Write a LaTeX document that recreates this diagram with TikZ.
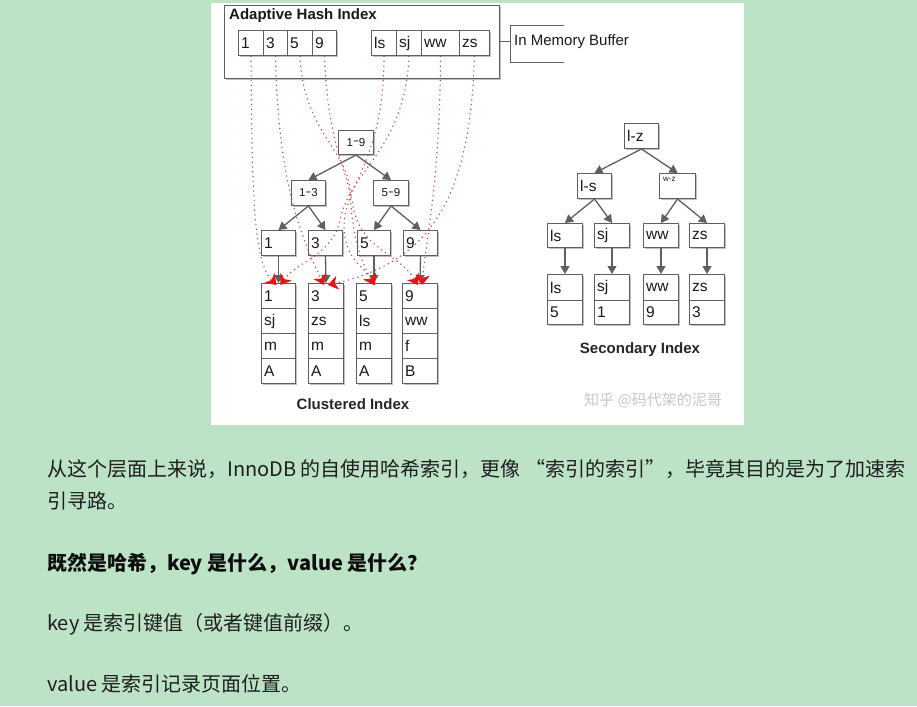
\documentclass[tikz,border=0pt]{standalone}
\usepackage{fontspec}
\setmainfont{Liberation Sans}
\newfontfamily\cjk{Noto Sans CJK SC}
\usetikzlibrary{arrows.meta,shadows}
\definecolor{bggreen}{RGB}{189,227,199}
\definecolor{boxline}{RGB}{95,95,95}
\definecolor{dotred}{RGB}{200,70,70}
\definecolor{tipred}{RGB}{232,20,20}
\definecolor{bodytext}{RGB}{30,30,30}
\tikzset{
  cbox/.style={draw=boxline, line width=1pt, fill=white, inner sep=0pt, anchor=north west,
    drop shadow={shadow xshift=1.3pt,shadow yshift=-1.3pt,fill=black!35,opacity=0.7}},
  celltxt/.style={inner sep=0pt, text=black!90, font=\fontsize{15.5}{18}\selectfont},
  smalltxt/.style={inner sep=0pt, text=black!90, font=\fontsize{11.5}{13}\selectfont},
  treearrow/.style={draw=boxline, line width=1.3pt, -{Triangle[length=8pt,width=9pt]}},
  redpath/.style={draw=dotred, line width=1.1pt, dash pattern=on 1.2pt off 3.6pt,
    -{Stealth[length=10pt,width=14pt,inset=3pt,color=tipred]}},
  caption/.style={inner sep=0pt, font=\bfseries\fontsize{15}{18}\selectfont, text=black!85},
  bodyline/.style={anchor=base west, inner sep=0pt, text=bodytext, font=\cjk\fontsize{20}{24}\selectfont}
}
\newcommand\mycell[6]{%
  \node[cbox, minimum width=#4pt, minimum height=#5pt] (#1) at (#2,#3) {};
  \node[celltxt, anchor=west] (#1t) at ([xshift=3pt]#1.west) {#6};}
\newcommand\tdash{{\raisebox{0.3ex}{\scalebox{1.5}[1]{-}}}}
\begin{document}
\begin{tikzpicture}[x=1pt,y=-1pt]
\fill[bggreen] (0,0) rectangle (917,706);
\useasboundingbox (0,0) rectangle (917,706);
\fill[white] (211,3) rectangle (744,425);

% ---------- Adaptive hash index ----------
\node[draw=boxline, line width=1pt, fill=white, anchor=north west, minimum width=275pt, minimum height=73pt,
  drop shadow={shadow xshift=1.3pt,shadow yshift=-1.3pt,fill=black!35,opacity=0.7}] (ahi) at (224,5) {};
\node[caption, anchor=west, text=black!90] (ahit) at (229,16) {Adaptive Hash Index};
\mycell{h1}{238}{30}{25}{25}{1}
\mycell{h3}{263}{30}{24}{25}{3}
\mycell{h5}{287}{30}{25}{25}{5}
\mycell{h9}{312}{30}{24}{25}{9}
\mycell{hls}{371}{30}{25}{25}{ls}
\mycell{hsj}{396}{30}{25}{25}{sj}
\mycell{hww}{421}{30}{38}{25}{ww}
\mycell{hzs}{459}{30}{30}{25}{zs}

% In Memory Buffer bracket
\coordinate (brk) at (510,42);
\coordinate (brt) at (510,26);
\coordinate (brb) at (510,63);
\coordinate (brte) at (564,26);
\coordinate (brbe) at (564,63);
\draw[boxline, line width=1pt] (ahi.east |- brk) -- (brk);
\draw[boxline, line width=1pt] (brte) -- (brt) -- (brb) -- (brbe);
\node[inner sep=0pt, anchor=west, font=\fontsize{15}{18}\selectfont, text=black!90] (imb) at (514,42) {In Memory Buffer};

% ---------- Clustered index tree ----------
\node[cbox, minimum width=35pt, minimum height=24pt] (r19) at (338,130) {};
\node[smalltxt] (r19t) at (r19.center) {1\tdash9};
\node[cbox, minimum width=34pt, minimum height=25pt] (r13) at (291,180) {};
\node[smalltxt] (r13t) at (r13.center) {1\tdash3};
\node[cbox, minimum width=35pt, minimum height=25pt] (r59) at (373,180) {};
\node[smalltxt] (r59t) at (r59.center) {5\tdash9};
\mycell{l1}{261}{230}{34}{25}{1}
\mycell{l3}{308}{230}{34}{25}{3}
\mycell{l5}{357}{230}{33}{25}{5}
\mycell{l9}{403}{230}{34}{25}{9}

\foreach \n/\x/\w/\a/\b/\c/\d in {1/261/34/1/sj/m/A, 3/308/35/3/zs/m/A, 5/356/35/5/ls/m/A, 9/402/35/9/ww/f/B}{
  \mycell{d\n a}{\x}{283}{\w}{25}{\a}
  \mycell{d\n b}{\x}{308}{\w}{25}{\b}
  \mycell{d\n c}{\x}{333}{\w}{25}{\c}
  \mycell{d\n d}{\x}{358}{\w}{25}{\d}
}
\node[caption] (ci) at (353,404) {Clustered Index};

\draw[treearrow] (r19.south) -- (r13.north);
\draw[treearrow] (r19.south) -- (r59.north);
\draw[treearrow] (r13.south) -- (l1.north);
\draw[treearrow] (r13.south) -- (l3.north);
\draw[treearrow] (r59.south) -- (l5.north);
\draw[treearrow] (r59.south) -- (l9.north);
\draw[treearrow] (l1.south) -- (d1a.north);
\draw[treearrow] (l3.south) -- (d3a.north);
\draw[treearrow] (l5.south) -- (d5a.north);
\draw[treearrow] (l9.south) -- (d9a.north);

% red dotted hash pointers
\coordinate (e1) at ([yshift=-2pt]d1a.north);
\coordinate (e3) at ([yshift=-2pt]d3a.north);
\coordinate (e5) at ([yshift=-2pt]d5a.north);
\coordinate (e9) at ([yshift=-2pt]d9a.north);
\draw[redpath] (h1.south) .. controls (252,200) and (254,262) .. ([xshift=-2pt]e1);
\draw[redpath] (h3.south) .. controls (278,180) and (300,235) .. ([xshift=-2pt]e3);
\draw[redpath] (h5.south) .. controls (303,130) and (347,150) .. (350,190) .. controls (352,240) and (362,262) .. (e5);
\draw[redpath] (h9.south) .. controls (328,140) and (343,160) .. (352,200) .. controls (358,250) and (398,252) .. ([xshift=-2pt]e9);
\draw[redpath] (hls.south) .. controls (384,160) and (345,185) .. (344,225) .. controls (344,260) and (364,266) .. ([xshift=1pt]e5);
\draw[redpath] (hsj.south) .. controls (405,150) and (350,170) .. (340,220) .. controls (332,256) and (296,262) .. ([xshift=2pt]e1);
\draw[redpath] (hww.south) .. controls (440,180) and (426,240) .. ([xshift=2pt]e9);
\draw[redpath] (hzs.south) .. controls (470,200) and (430,262) .. ([xshift=2pt]e3);

% ---------- Secondary index tree ----------
\mycell{lz}{624}{123}{34}{25}{l-z}
\mycell{lsn}{577}{173}{34}{25}{l-s}
\node[cbox, minimum width=36pt, minimum height=25pt] (wz) at (659,173) {};
\node[inner sep=0pt, anchor=north west, font=\fontsize{8}{9}\selectfont, text=black!90] (wzt) at ([xshift=4pt,yshift=-4pt]wz.north west) {w-z};
\mycell{sl}{547}{223}{35}{24}{ls}
\mycell{ssj}{594}{223}{35}{24}{sj}
\mycell{sww}{643}{223}{35}{24}{ww}
\mycell{szs}{689}{223}{35}{24}{zs}
\foreach \n/\x/\a/\b in {sl/547/ls/5, ssj/594/sj/1, sww/643/ww/9, szs/689/zs/3}{
  \mycell{\n a}{\x}{274}{35}{26}{\a}
  \mycell{\n b}{\x}{300}{35}{24}{\b}
}
\node[caption] (si) at (640,350) {Secondary Index};

\draw[treearrow] (lz.south) -- (lsn.north);
\draw[treearrow] (lz.south) -- (wz.north);
\draw[treearrow] (lsn.south) -- (sl.north);
\draw[treearrow] (lsn.south) -- (ssj.north);
\draw[treearrow] (wz.south) -- (sww.north);
\draw[treearrow] (wz.south) -- (szs.north);
\draw[treearrow] (sl.south) -- (sla.north);
\draw[treearrow] (ssj.south) -- (ssja.north);
\draw[treearrow] (sww.south) -- (swwa.north);
\draw[treearrow] (szs.south) -- (szsa.north);

\node[inner sep=0pt, font=\cjk\fontsize{15}{17}\selectfont, text=black!22] (wm) at (653,400) {知乎 @码代架的泥哥};

% ---------- Body text ----------
\node[bodyline] (p1) at (47,476) {从这个层面上来说，InnoDB 的自使用哈希索引，更像 “索引的索引”，毕竟其目的是为了加速索};
\node[bodyline] (p2) at (47,508) {引寻路。};
\node[bodyline, font=\cjk\bfseries\fontsize{20}{24}\selectfont, text=black!95] (p3) at (47,570) {既然是哈希，key 是什么，value 是什么？};
\node[bodyline] (p4) at (47,630) {key 是索引键值（或者键值前缀）。};
\node[bodyline] (p5) at (47,691) {value 是索引记录页面位置。};
\end{tikzpicture}
\end{document}
